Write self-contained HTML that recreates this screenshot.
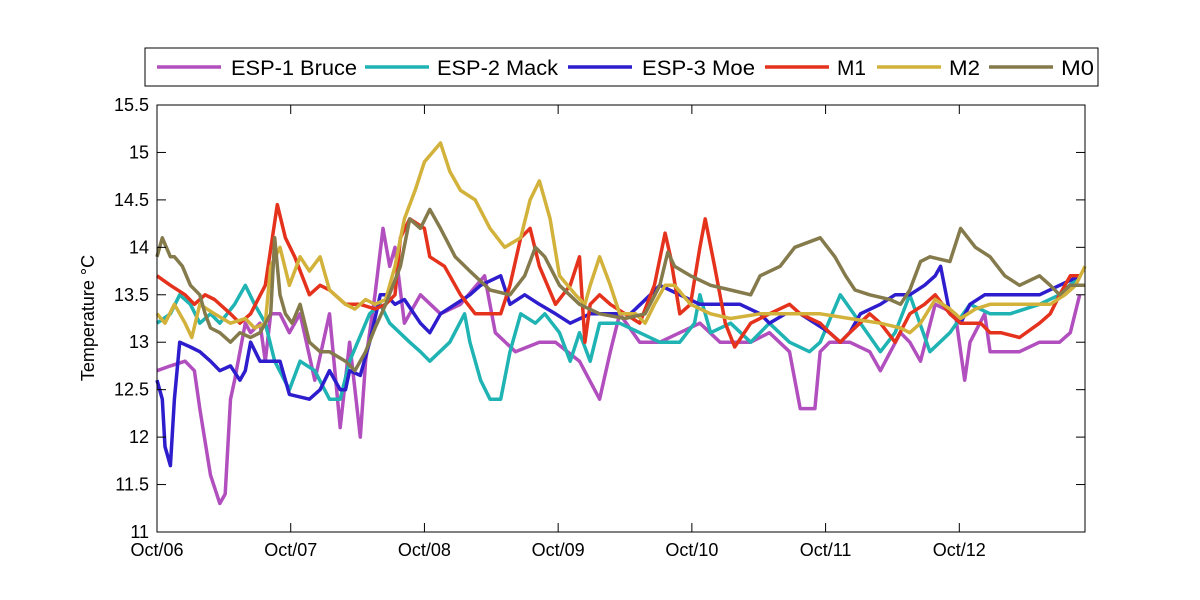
<!DOCTYPE html>
<html><head><meta charset="utf-8">
<style>
html,body{margin:0;padding:0;background:#fff;}
svg{display:block;font-family:"Liberation Sans",Arial,sans-serif;}
</style></head>
<body>
<svg id="chart" width="1200" height="600" viewBox="0 0 1200 600">
  <rect x="0" y="0" width="1200" height="600" fill="#fff"/>
  <g id="plot"></g>
  <rect x="157" y="105" width="928" height="427" fill="none" stroke="#000" stroke-width="1"/>
  <g id="axes"></g>
  <text x="94" y="318" font-size="18" text-anchor="middle" transform="rotate(-90 94 318)">Temperature °C</text>
  <g id="legend">
    <rect x="145" y="48" width="953" height="38" fill="#fff" stroke="#000" stroke-width="1"/>
  </g>
</svg>
<script>
const yTicks=[11,11.5,12,12.5,13,13.5,14,14.5,15,15.5];
const xTickYears=[0,1,2,3,4,5,6];
const xTickLabels=["Oct/06","Oct/07","Oct/08","Oct/09","Oct/10","Oct/11","Oct/12"];
const seriesNames=["ESP-1 Bruce","ESP-2 Mack","ESP-3 Moe","M1","M2","M0"];
const seriesColors=["#b24fbe","#1fb3b3","#2d1dcc","#e5321c","#d2b23a","#847a4c"];
// years since Oct 2006, temperature °C
const bruceT=[0,.10,.21,.28,.32,.40,.47,.51,.55,.58,.66,.70,.77,.81,.85,.92,.99,1.07,1.18,1.29,1.37,1.44,1.52,1.56,1.63,1.69,1.74,1.78,1.85,1.97,2.12,2.27,2.45,2.53,2.68,2.86,2.98,3.16,3.31,3.39,3.46,3.61,3.76,3.91,4.06,4.21,4.44,4.58,4.73,4.81,4.92,4.96,5.03,5.18,5.33,5.41,5.56,5.63,5.71,5.82,5.97,6.04,6.08,6.19,6.23,6.31,6.45,6.60,6.75,6.83,6.90];
const bruceV=[12.7,12.75,12.8,12.7,12.3,11.6,11.3,11.4,12.4,12.6,13.2,13.1,13.2,12.8,13.3,13.3,13.1,13.3,12.6,13.3,12.1,13.0,12.0,12.8,13.5,14.2,13.8,14.0,13.2,13.5,13.3,13.4,13.7,13.1,12.9,13.0,13.0,12.8,12.4,12.9,13.3,13.0,13.0,13.1,13.2,13.0,13.0,13.1,12.9,12.3,12.3,12.9,13.0,13.0,12.9,12.7,13.1,13.0,12.8,13.4,13.3,12.6,13.0,13.3,12.9,12.9,12.9,13.0,13.0,13.1,13.5];
const mackT=[0,.10,.17,.25,.32,.40,.47,.58,.66,.73,.81,.88,.99,1.07,1.18,1.29,1.37,1.44,1.59,1.67,1.74,1.89,1.97,2.04,2.19,2.30,2.34,2.42,2.49,2.57,2.64,2.72,2.83,2.90,3.01,3.09,3.16,3.24,3.31,3.46,3.61,3.76,3.91,4.02,4.06,4.14,4.29,4.44,4.58,4.73,4.88,4.96,5.11,5.26,5.41,5.52,5.63,5.78,5.93,6.08,6.23,6.38,6.60,6.75,6.90];
const mackV=[13.2,13.3,13.5,13.4,13.2,13.3,13.2,13.4,13.6,13.4,13.2,12.8,12.5,12.8,12.7,12.4,12.4,12.8,13.3,13.4,13.2,13.0,12.9,12.8,13.0,13.3,13.0,12.6,12.4,12.4,12.9,13.3,13.2,13.3,13.1,12.8,13.1,12.8,13.2,13.2,13.1,13.0,13.0,13.2,13.5,13.1,13.2,13.0,13.2,13.0,12.9,13.0,13.5,13.2,12.9,13.1,13.5,12.9,13.1,13.4,13.3,13.3,13.4,13.5,13.7];
const moeT=[0,.04,.06,.10,.13,.17,.25,.32,.40,.47,.55,.62,.66,.70,.77,.85,.92,.99,1.14,1.22,1.29,1.37,1.41,1.44,1.52,1.59,1.67,1.71,1.78,1.85,1.97,2.04,2.12,2.23,2.34,2.42,2.57,2.64,2.75,2.86,2.98,3.09,3.24,3.39,3.54,3.69,3.76,3.91,4.06,4.21,4.36,4.51,4.58,4.70,4.81,4.92,5.03,5.11,5.18,5.26,5.41,5.52,5.63,5.74,5.82,5.86,5.93,6.01,6.08,6.19,6.31,6.45,6.60,6.75,6.90];
const moeV=[12.6,12.4,11.9,11.7,12.4,13.0,12.95,12.9,12.8,12.7,12.75,12.6,12.7,13.0,12.8,12.8,12.8,12.45,12.4,12.5,12.7,12.5,12.5,12.7,12.65,13.0,13.5,13.5,13.4,13.45,13.2,13.1,13.3,13.4,13.5,13.6,13.7,13.4,13.5,13.4,13.3,13.2,13.3,13.3,13.3,13.5,13.6,13.5,13.4,13.4,13.4,13.3,13.2,13.3,13.3,13.2,13.1,13.0,13.1,13.3,13.4,13.5,13.5,13.6,13.7,13.8,13.3,13.2,13.4,13.5,13.5,13.5,13.5,13.6,13.7];
const m1T=[0,.10,.21,.28,.36,.43,.55,.62,.70,.81,.90,.96,1.03,1.14,1.22,1.29,1.41,1.52,1.63,1.71,1.78,1.82,1.89,2.00,2.04,2.15,2.27,2.38,2.49,2.57,2.64,2.72,2.79,2.86,2.98,3.09,3.16,3.20,3.24,3.31,3.39,3.50,3.61,3.72,3.80,3.84,3.91,3.99,4.06,4.10,4.17,4.25,4.32,4.44,4.58,4.73,4.81,4.96,5.03,5.11,5.18,5.33,5.41,5.52,5.63,5.74,5.82,5.93,6.01,6.16,6.23,6.31,6.45,6.60,6.68,6.75,6.83,6.90];
const m1V=[13.7,13.6,13.5,13.4,13.5,13.45,13.3,13.2,13.3,13.6,14.45,14.1,13.9,13.5,13.6,13.55,13.4,13.4,13.35,13.4,13.5,14.1,14.3,14.2,13.9,13.8,13.5,13.3,13.3,13.3,13.6,14.1,14.2,13.8,13.4,13.6,13.9,13.0,13.4,13.5,13.4,13.3,13.2,13.6,14.15,13.9,13.3,13.4,14.0,14.3,13.8,13.2,12.95,13.2,13.3,13.4,13.3,13.2,13.1,13.0,13.1,13.3,13.2,13.0,13.3,13.4,13.5,13.3,13.2,13.2,13.1,13.1,13.05,13.2,13.3,13.5,13.7,13.7];
const m2T=[0,.06,.13,.21,.26,.32,.43,.55,.66,.73,.81,.85,.92,.99,1.07,1.14,1.22,1.29,1.41,1.48,1.56,1.63,1.71,1.78,1.85,1.93,2.00,2.12,2.19,2.27,2.38,2.49,2.60,2.72,2.79,2.86,2.94,3.01,3.13,3.20,3.24,3.31,3.39,3.46,3.58,3.65,3.72,3.80,3.87,3.99,4.14,4.29,4.51,4.73,4.96,5.18,5.41,5.56,5.63,5.71,5.82,5.93,6.01,6.12,6.23,6.38,6.53,6.68,6.79,6.87,6.94];
const m2V=[13.3,13.2,13.4,13.2,13.05,13.4,13.3,13.2,13.25,13.15,13.2,13.8,14.0,13.6,13.9,13.75,13.9,13.55,13.4,13.35,13.45,13.4,13.45,13.8,14.3,14.6,14.9,15.1,14.8,14.6,14.5,14.2,14.0,14.1,14.5,14.7,14.3,13.7,13.5,13.4,13.6,13.9,13.6,13.3,13.3,13.2,13.4,13.6,13.6,13.4,13.3,13.25,13.3,13.3,13.3,13.25,13.2,13.15,13.1,13.2,13.45,13.35,13.25,13.35,13.4,13.4,13.4,13.4,13.5,13.6,13.8];
const m0T=[0,.04,.10,.13,.19,.25,.32,.36,.40,.47,.55,.62,.70,.77,.85,.88,.92,.96,1.01,1.07,1.14,1.22,1.29,1.41,1.48,1.56,1.63,1.71,1.82,1.89,1.97,2.04,2.12,2.23,2.34,2.49,2.64,2.75,2.83,2.90,3.01,3.16,3.31,3.50,3.65,3.76,3.82,3.87,3.99,4.14,4.29,4.44,4.51,4.66,4.77,4.96,5.07,5.15,5.22,5.33,5.48,5.56,5.63,5.71,5.78,5.93,6.01,6.12,6.23,6.34,6.45,6.60,6.68,6.75,6.83,6.94];
const m0V=[13.9,14.1,13.9,13.9,13.8,13.6,13.5,13.3,13.15,13.1,13.0,13.1,13.05,13.1,13.3,14.1,13.5,13.3,13.2,13.4,13.0,12.9,12.9,12.8,12.7,12.9,13.15,13.4,13.8,14.3,14.2,14.4,14.2,13.9,13.75,13.55,13.5,13.7,14.0,13.9,13.6,13.4,13.3,13.25,13.3,13.6,13.95,13.8,13.7,13.6,13.55,13.5,13.7,13.8,14.0,14.1,13.9,13.7,13.55,13.5,13.45,13.4,13.55,13.85,13.9,13.85,14.2,14.0,13.9,13.7,13.6,13.7,13.6,13.5,13.6,13.6];

const seriesT=[bruceT,mackT,moeT,m1T,m2T,m0T];
const seriesV=[bruceV,mackV,moeV,m1V,m2V,m0V];
const seriesKeys=["series-esp1-bruce","series-esp2-mack","series-esp3-moe","series-m1","series-m2","series-m0"];

const NS="http://www.w3.org/2000/svg";
const X0=157,X1=1085,Y0=532,Y1=105;
const xMin=0,xMax=6.94,yMin=11,yMax=15.5;
function xs(t){return X0+(t-xMin)/(xMax-xMin)*(X1-X0);}
function ys(v){return Y0-(v-yMin)/(yMax-yMin)*(Y0-Y1);}
function mk(tag,attrs,parent){const e=document.createElementNS(NS,tag);for(const k in attrs)e.setAttribute(k,attrs[k]);parent.appendChild(e);return e;}

const plot=document.getElementById('plot');
const axes=document.getElementById('axes');
const legend=document.getElementById('legend');

for(let s=0;s<seriesT.length;s++){
  const T=seriesT[s],V=seriesV[s];
  let d="";
  for(let i=0;i<T.length;i++){d+=(i?"L":"M")+xs(T[i]).toFixed(1)+","+ys(V[i]).toFixed(1);}
  const p=mk('path',{d:d,fill:"none",stroke:seriesColors[s],"stroke-width":"3.5","stroke-linejoin":"round"},plot);
  
  
}
yTicks.forEach(v=>{
  const y=ys(v);
  const a=mk('line',{x1:X0,x2:X0+9,y1:y,y2:y,stroke:"#000"},axes);
  
  
  const b=mk('line',{x1:X1-9,x2:X1,y1:y,y2:y,stroke:"#000"},axes);
  
  
  const t=mk('text',{x:X0-8,y:y+6,"font-size":"18","text-anchor":"end"},axes);
  t.textContent=String(v);
  
  
});
xTickYears.forEach((v,i)=>{
  const x=xs(v);
  const a=mk('line',{x1:x,x2:x,y1:Y0,y2:Y0-9,stroke:"#000"},axes);
  
  
  const b=mk('line',{x1:x,x2:x,y1:Y1,y2:Y1+9,stroke:"#000"},axes);
  
  
  const t=mk('text',{x:x,y:556,"font-size":"18","text-anchor":"middle"},axes);
  t.textContent=xTickLabels[i];
  
  
});
const legLineX=[157,365,568,765,877,989];
const legTextX=[231,437,642,837,949,1061];
const legTextW=[126,121,113,29,31,33];
for(let s=0;s<seriesNames.length;s++){
  const g=mk('g',{},legend);
  
  
  mk('line',{x1:legLineX[s],x2:legLineX[s]+64,y1:67,y2:67,stroke:seriesColors[s],"stroke-width":"3.5"},g);
  const t=mk('text',{x:legTextX[s],y:75,"font-size":"21",textLength:legTextW[s],lengthAdjust:"spacingAndGlyphs"},g);
  t.textContent=seriesNames[s];
}
</script>
</body></html>
